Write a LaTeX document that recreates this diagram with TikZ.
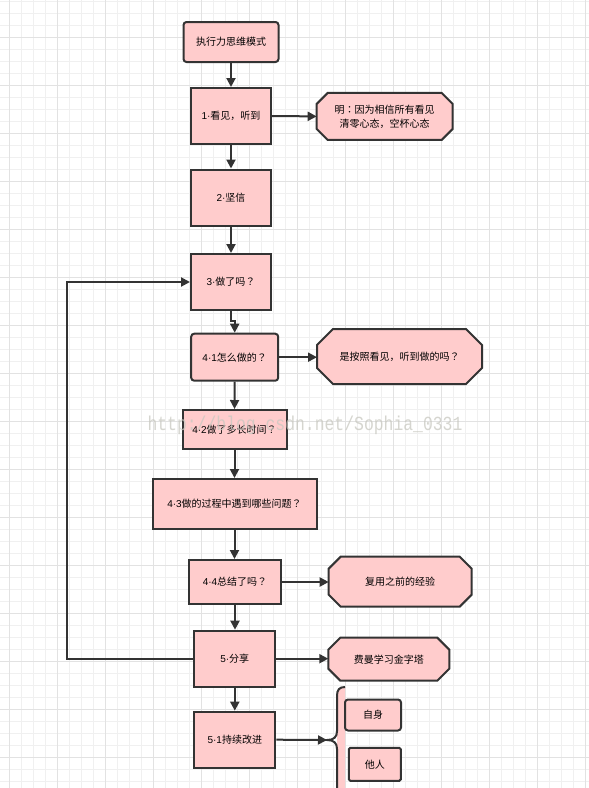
\documentclass[tikz,border=0pt]{standalone}
\usepackage{fontspec}
\setmainfont{Noto Sans CJK SC}
\newfontfamily\wmfont{Liberation Mono}
\newfontfamily\lat{Liberation Sans}
\newfontfamily\tcfont{Noto Sans CJK TC}
\newcommand\qm{{\tcfont ？}}
\newcommand\fwcolon{{\tcfont ：}}
\usetikzlibrary{arrows.meta}
\definecolor{pinkfill}{HTML}{FFCCCC}
\definecolor{edgecol}{HTML}{333333}
\definecolor{gridminor}{HTML}{F0F0F0}
\definecolor{gridmajor}{HTML}{E2E2E2}
\definecolor{wmcol}{HTML}{C8C8C0}
\pgfdeclarelayer{gridlayer}
\pgfdeclarelayer{bglayer}
\pgfsetlayers{gridlayer,bglayer,main}
\tikzset{
  box/.style={draw=edgecol, fill=pinkfill, line width=2pt, inner sep=0pt,
    font=\fontsize{10}{14}\selectfont, text=black, align=center},
  rbox/.style={box, rounded corners=3pt},
  octtext/.style={inner sep=0pt, outer sep=0pt, font=\fontsize{10}{14}\selectfont,
    text=black, align=center},
  octline/.style={draw=edgecol, fill=pinkfill, line width=2pt, line join=miter},
  conn/.style={draw=edgecol, line width=2pt, -{Triangle[length=9pt,width=9pt]}},
  braceline/.style={draw=edgecol, line width=2pt},
}
\newcommand\octpath[2]{%
  \path[octline] ([xshift=#2]#1.north west) -- ([xshift=-#2]#1.north east)
    -- ([yshift=-#2]#1.north east) -- ([yshift=#2]#1.south east)
    -- ([xshift=-#2]#1.south east) -- ([xshift=#2]#1.south west)
    -- ([yshift=#2]#1.south west) -- ([yshift=-#2]#1.north west) -- cycle;}
\begin{document}
\begin{tikzpicture}[x=1pt,y=-1pt]
\useasboundingbox (0,0) rectangle (589,788);
% grid
\begin{pgfonlayer}{gridlayer}
\fill[white] (0,0) rectangle (589,788);
\foreach \i in {0,...,48} {
  \draw[gridminor, line width=1pt] ({9.3+12*\i},0) -- ({9.3+12*\i},788);
}
\foreach \i in {0,...,65} {
  \draw[gridminor, line width=1pt] (0,{1.3+12*\i}) -- (589,{1.3+12*\i});
}
\foreach \i in {0,...,12} {
  \draw[gridmajor, line width=1pt] ({9.3+48*\i},0) -- ({9.3+48*\i},788);
}
\foreach \i in {0,...,16} {
  \draw[gridmajor, line width=1pt] (0,{37.3+48*\i}) -- (589,{37.3+48*\i});
}
\end{pgfonlayer}

% main column
\node[rbox, minimum width=95pt, minimum height=40pt] (n0) at (231,42) {执行力思维模式};
\node[box, minimum width=80pt, minimum height=56pt] (n1) at (231,116) {{\lat 1·}看见，听到};
\node[box, minimum width=80pt, minimum height=56pt] (n2) at (231,197.5) {{\lat 2·}坚信};
\node[box, minimum width=80pt, minimum height=56pt] (n3) at (231,282) {{\lat 3·}做了吗\qm};
\node[rbox, minimum width=87pt, minimum height=47pt] (n41) at (234.7,357.2) {{\lat 4·1}怎么做的\qm};
\node[box, minimum width=104pt, minimum height=39pt] (n42) at (234.5,429.5) {{\lat 4·2}做了多长时间\qm};
\node[box, minimum width=164pt, minimum height=50pt] (n43) at (234.5,504) {{\lat 4·3}做的过程中遇到哪些问题\qm};
\node[box, minimum width=92pt, minimum height=44pt] (n44) at (235,582) {{\lat 4·4}总结了吗\qm};
\node[box, minimum width=81pt, minimum height=56pt] (n5) at (234.8,658.7) {{\lat 5·}分享};
\node[box, minimum width=81pt, minimum height=56pt] (n51) at (234.8,739.7) {{\lat 5·1}持续改进};

% octagon side notes
\node[octtext, minimum width=136pt, minimum height=47pt] (o1) at (384.7,116.4) {明\fwcolon 因为相信所有看见\\清零心态，空杯心态};
\node[octtext, minimum width=165pt, minimum height=55pt] (o2) at (399.5,356.5) {是按照看见，听到做的吗\qm};
\node[octtext, minimum width=143pt, minimum height=50pt] (o3) at (400.2,581.7) {复用之前的经验};
\node[octtext, minimum width=121pt, minimum height=43pt] (o4) at (388.8,659.2) {费曼学习金字塔};
\begin{pgfonlayer}{bglayer}
\octpath{o1}{11pt}
\octpath{o2}{16pt}
\octpath{o3}{12pt}
\octpath{o4}{12pt}
% pink strip of the brace
\fill[pinkfill] (345,687) .. controls (339,687) and (337,690) .. (337,696) -- (337,800) -- (345,800) -- cycle;
\end{pgfonlayer}

% brace
\coordinate (btip) at (327,740);
\draw[braceline] (345,687) .. controls (339,687) and (337,690) .. (337,696) -- (337,731)
  .. controls (337,737) and (334,740) .. (btip)
  .. controls (334,740) and (337,743) .. (337,749) -- (337,800);

% sub items
\node[rbox, minimum width=56pt, minimum height=31pt] (s1) at (373,715) {自身};
\node[box, rounded corners=1.5pt, minimum width=52pt, minimum height=33pt] (s2) at (374.8,764.3) {他人};

% connectors
\draw[conn] (n0) -- (n1);
\draw[conn] (n1) -- (n2);
\draw[conn] (n2) -- (n3);
\draw[conn] (n3.south) -- ++(0,10) -| (n41.north);
\draw[conn] (n41) -- (n42);
\draw[conn] (n42.south) -- (n42.south |- n43.north);
\draw[conn] (n43.south) -- (n43.south |- n44.north);
\draw[conn] (n44.south) -- (n44.south |- n5.north);
\draw[conn] (n5) -- (n51);
\draw[conn] (n1.east) -- (o1.west);
\draw[conn] (n41.east) -- (n41.east -| o2.west);
\draw[conn] (n44.east) -- (n44.east -| o3.west);
\draw[conn] (n5.east) -- (n5.east -| o4.west);
\draw[conn] (n51.east) -- (btip);
% feedback loop
\coordinate (loopx) at (67.3,0);
\draw[conn] (n5.west) -- (n5.west -| loopx) -- (n3.west -| loopx) -- (n3.west);

% watermark
\node[anchor=base, inner sep=0pt, text=wmcol, opacity=0.75,
  font=\wmfont\fontsize{20}{20}\selectfont] (wm) at (305,430)
  {\scalebox{0.82}[1]{http://blog.csdn.net/Sophia\_0331}};
\end{tikzpicture}
\end{document}
